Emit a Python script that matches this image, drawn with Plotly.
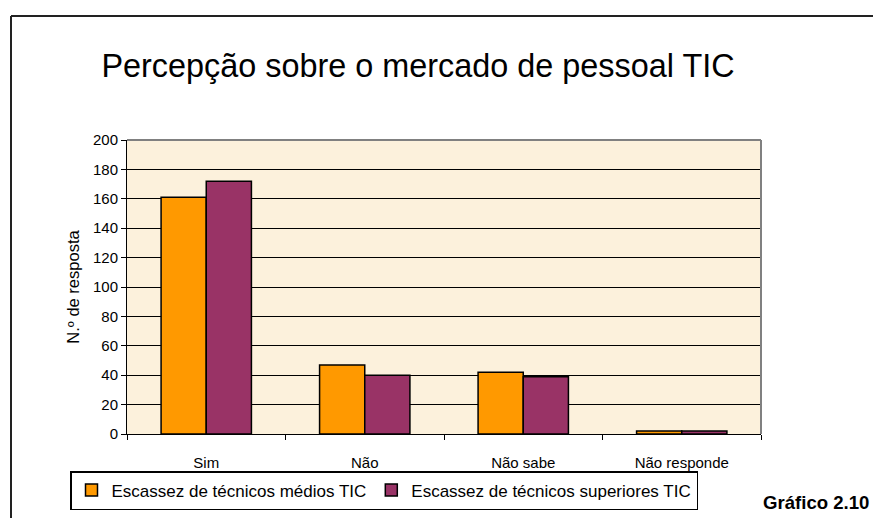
import plotly.graph_objects as go

categories = ["Sim", "Não", "Não sabe", "Não responde"]
medios = [161, 47, 42, 2]
superiores = [172, 40, 39, 2]
series_names = ["Escassez de técnicos médios TIC", "Escassez de técnicos superiores TIC"]
title_text = "Percepção sobre o mercado de pessoal TIC"
y_title = "N.º de resposta"
caption = "Gráfico 2.10"

W, H = 873, 518
ML, MR, MT, MB = 127, 112, 140, 84
PW, PH = W - ML - MR, H - MT - MB

def px_x(x):
    return (x - ML) / PW

def px_y(y):
    return (H - MB - y) / PH

FONT = "Liberation Sans, Arial, Helvetica, sans-serif"

fig = go.Figure()
fig.add_trace(go.Bar(x=categories, y=medios, name=series_names[0],
                     marker=dict(color="#FF9900", line=dict(color="black", width=1.5))))
fig.add_trace(go.Bar(x=categories, y=superiores, name=series_names[1],
                     marker=dict(color="#993366", line=dict(color="black", width=1.5))))

fig.update_layout(
    width=W, height=H, autosize=False,
    margin=dict(l=ML, r=MR, t=MT, b=MB, pad=0, autoexpand=False),
    paper_bgcolor="white",
    plot_bgcolor="#FCF1DC",
    font=dict(family=FONT, color="black", size=15),
    barmode="group", bargap=0.43, bargroupgap=0,
    title=dict(text=title_text, x=418 / W, xanchor="center", xref="container",
               y=1 - 66 / H, yanchor="middle", yref="container",
               font=dict(size=32.4, family=FONT, color="black")),
    showlegend=True,
    legend=dict(orientation="h", x=384 / W, xref="container", xanchor="center",
                y=1 - 471 / H, yref="container", yanchor="top",
                bordercolor="black", borderwidth=1.5, bgcolor="white",
                font=dict(size=17, family=FONT), traceorder="normal",
                itemwidth=30, tracegroupgap=0),
    xaxis=dict(showline=True, linecolor="black", linewidth=1, showgrid=False,
               ticks="outside", ticklen=5, tickcolor="black", tickson="boundaries",
               tickfont=dict(size=15), ticklabelstandoff=15, automargin=False),
    yaxis=dict(range=[0, 200], dtick=20, showline=True, linecolor="black", linewidth=1,
               showgrid=True, gridcolor="black", gridwidth=1,
               ticks="outside", ticklen=5, tickcolor="black", tickfont=dict(size=15),
               zeroline=False, automargin=False,
               title=dict(text=y_title, font=dict(size=16.5), standoff=9)),
    shapes=[
        dict(type="line", xref="paper", yref="paper", x0=0, x1=1, y0=1, y1=1,
             line=dict(color="#808080", width=2)),
        dict(type="line", xref="paper", yref="paper", x0=1, x1=1, y0=0, y1=1,
             line=dict(color="#808080", width=2)),
        dict(type="line", xref="paper", yref="paper", x0=px_x(11), x1=px_x(874),
             y0=px_y(16), y1=px_y(16), line=dict(color="#222222", width=2)),
        dict(type="line", xref="paper", yref="paper", x0=px_x(11), x1=px_x(11),
             y0=px_y(16), y1=px_y(519), line=dict(color="#222222", width=2)),
    ],
    annotations=[
        dict(text="<b>" + caption + "</b>", xref="paper", yref="paper",
             x=px_x(761), xanchor="left", y=px_y(502), yanchor="middle",
             showarrow=False, font=dict(size=18.6, family=FONT, color="black")),
    ],
)

fig.write_html("out.html", config={"displayModeBar": False, "responsive": False},
               post_script="document.body.style.margin='0';")
